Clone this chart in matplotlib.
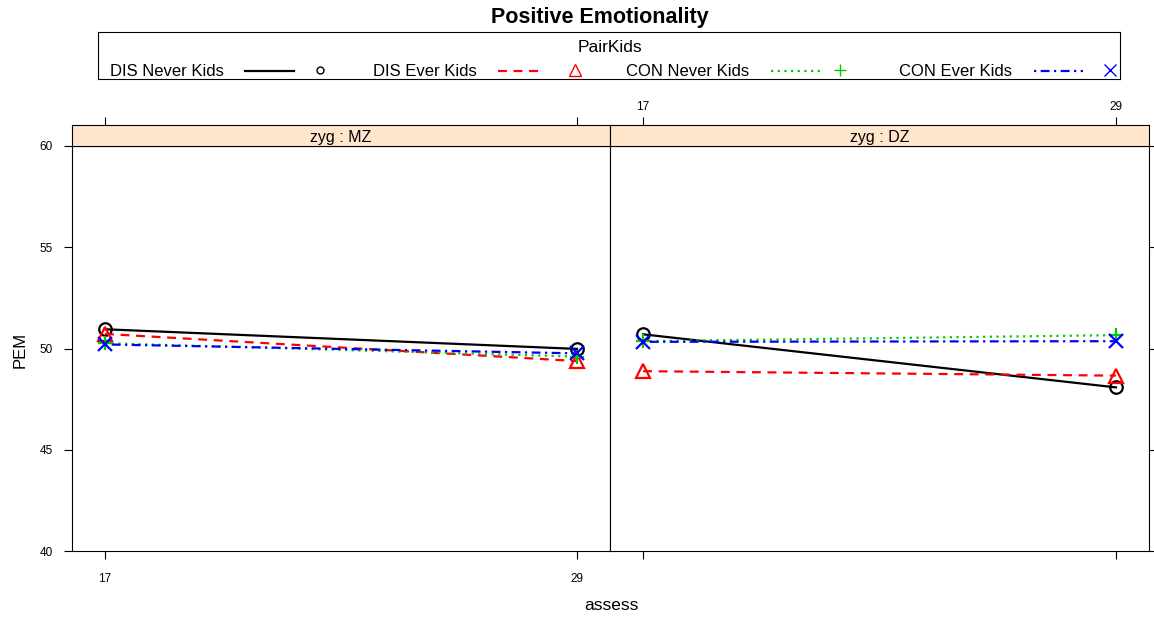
import matplotlib
matplotlib.use("Agg")
import matplotlib.pyplot as plt
from matplotlib.lines import Line2D

plt.rcParams['font.family'] = ['Liberation Sans', 'DejaVu Sans']

assess = [17, 29]
panels = ["zyg : MZ", "zyg : DZ"]
groups = ["DIS Never Kids", "DIS Ever Kids", "CON Never Kids", "CON Ever Kids"]
mz_vals = {
    "DIS Never Kids": [50.95, 49.98],
    "DIS Ever Kids": [50.72, 49.38],
    "CON Never Kids": [50.26, 49.60],
    "CON Ever Kids": [50.20, 49.76],
}
dz_vals = {
    "DIS Never Kids": [50.70, 48.08],
    "DIS Ever Kids": [48.88, 48.66],
    "CON Never Kids": [50.36, 50.66],
    "CON Ever Kids": [50.33, 50.36],
}
yticks = [40, 45, 50, 55, 60]

colors = {"DIS Never Kids": "black", "DIS Ever Kids": "#FF0000",
          "CON Never Kids": "#00CC00", "CON Ever Kids": "#0000FF"}
styles = {"DIS Never Kids": "-", "DIS Ever Kids": (0, (4, 3)),
          "CON Never Kids": (0, (1, 2)), "CON Ever Kids": (0, (1, 2, 4, 2))}
markers = {"DIS Never Kids": "o", "DIS Ever Kids": "^",
           "CON Never Kids": "+", "CON Ever Kids": "x"}

W, H = 1154, 620
fig = plt.figure(figsize=(W / 100, H / 100), dpi=100)

def fx(px):
    return px / W

def fy(py):
    return 1 - py / H

xlim = (16.16, 29.84)
panel_x = [(72, 610), (610, 1149)]
plot_top, plot_bot, strip_top = 146, 551, 125
fs_tick = 8.5

for i, (name, vals) in enumerate(zip(panels, [mz_vals, dz_vals])):
    x0, x1 = panel_x[i]
    ax = fig.add_axes([fx(x0), fy(plot_bot), fx(x1 - x0), (plot_bot - plot_top) / H])
    for g in groups:
        ax.plot(assess, vals[g], color=colors[g], linestyle=styles[g], lw=1.6,
                marker=markers[g], markersize=10 if markers[g] != "o" else 9,
                markerfacecolor="none", markeredgecolor=colors[g], mew=1.6)
    ax.set_xlim(*xlim)
    ax.set_ylim(40, 60)
    ax.set_xticks(assess)
    ax.set_yticks(yticks)
    ax.tick_params(direction="out", length=6, width=0.8, labelsize=fs_tick, pad=8)
    ax.tick_params(axis="x", pad=10)
    if i == 0:
        ax.tick_params(axis="y", left=True, right=False, labelleft=True)
        ax.tick_params(axis="x", bottom=True, labelbottom=True)
    else:
        ax.tick_params(axis="y", left=False, right=True, labelleft=False, labelright=False)
        ax.tick_params(axis="x", bottom=True, labelbottom=False)
    for s in ax.spines.values():
        s.set_linewidth(0.8)
    # strip
    sx = fig.add_axes([fx(x0), fy(plot_top), fx(x1 - x0), (plot_top - strip_top) / H])
    sx.set_facecolor("#FFE5CC")
    sx.set_xlim(*xlim)
    sx.set_ylim(0, 1)
    sx.set_yticks([])
    sx.set_xticks(assess)
    sx.xaxis.tick_top()
    sx.tick_params(axis="x", direction="out", length=6, width=0.8, labelsize=fs_tick, pad=3,
                   labeltop=(i == 1))
    for s in sx.spines.values():
        s.set_linewidth(0.8)
    sx.text(0.5, 0.4, name, transform=sx.transAxes, ha="center", va="center", fontsize=11.5)

fig.text(fx(20), fy(350), "PEM", rotation=90, ha="center", va="center", fontsize=12)
fig.text(fx(611), fy(605), "assess", ha="center", va="center", fontsize=12.5)
fig.text(fx(600), fy(18), "Positive Emotionality", ha="center", va="center",
         fontsize=15.5, fontweight="bold")

# legend
lx0, lx1, ly0, ly1 = 98, 1120, 32, 79
lax = fig.add_axes([fx(lx0), fy(ly1), fx(lx1 - lx0), (ly1 - ly0) / H])
lax.set_xlim(lx0, lx1)
lax.set_ylim(ly1, ly0)
lax.set_xticks([])
lax.set_yticks([])
for s in lax.spines.values():
    s.set_linewidth(0.8)
lax.text(610, 48, "PairKids", ha="center", va="center", fontsize=12.5)
text_x = [110, 373, 626, 899]
line_x = [(245, 294), (498, 544), (771, 820), (1034, 1083)]
mark_x = [320, 575, 840, 1110]
ly = 72
for g, tx, (a, b), mx in zip(groups, text_x, line_x, mark_x):
    lax.text(tx, ly, g, ha="left", va="center", fontsize=12)
    lax.add_line(Line2D([a, b], [ly - 1, ly - 1], color=colors[g], linestyle=styles[g], lw=1.6))
    lax.plot([mx], [ly - 2], marker=markers[g], markersize=9 if markers[g] != "o" else 5,
             markerfacecolor="none", markeredgecolor=colors[g], mew=1.0, linestyle="none")

fig.savefig("out.png", dpi=100)
